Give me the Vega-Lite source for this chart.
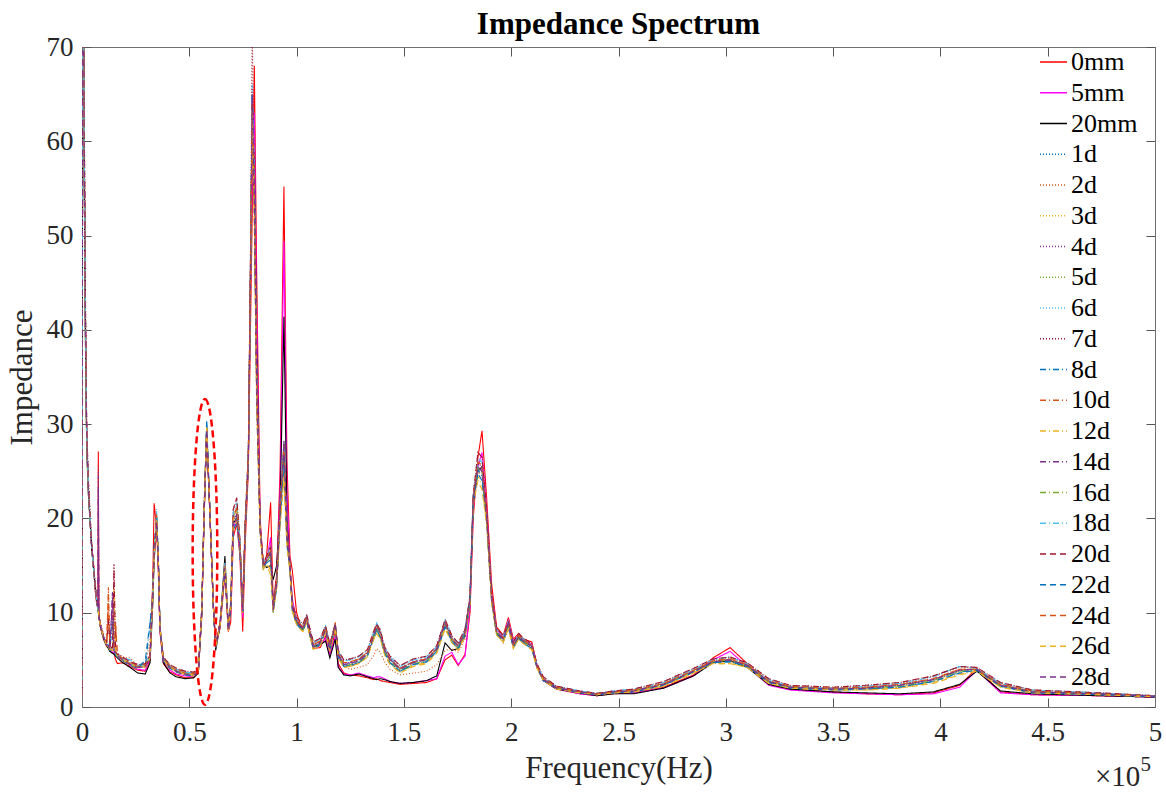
{
"$schema":"https://vega.github.io/schema/vega-lite/v6.json",
"width":1073,"height":660,
"autosize":{"type":"none"},
"padding":{"left":82,"top":47,"right":11,"bottom":85},
"background":"white",
"title":{"text":"Impedance Spectrum","fontSize":31,"font":"Liberation Serif","fontWeight":"bold","color":"#000000","anchor":"middle","frame":"group","offset":13,"dy":21},
"config":{"view":{"stroke":null},"axis":{"grid":false},"font":"Liberation Serif"},
"datasets":{
"names":[{"key":"R","name":"0mm"},{"key":"M","name":"5mm"},{"key":"K","name":"20mm"},{"key":"a","name":"1d"},{"key":"b","name":"2d"},{"key":"c","name":"3d"},{"key":"d","name":"4d"},{"key":"e","name":"5d"},{"key":"g","name":"6d"},{"key":"h","name":"7d"},{"key":"i","name":"8d"},{"key":"j","name":"10d"},{"key":"k","name":"12d"},{"key":"l","name":"14d"},{"key":"m","name":"16d"},{"key":"n","name":"18d"},{"key":"o","name":"20d"},{"key":"p","name":"22d"},{"key":"q","name":"24d"},{"key":"r","name":"26d"},{"key":"s","name":"28d"}],
"ell":[{"f":57300,"v":16.45}],
"x10":[{"f":472000,"v":-8.4,"t":"×10"}],
"x5":[{"f":493300,"v":-6.8,"t":"5"}],
"w":[
{"f":0,"R":1.2,"M":1.2,"K":1.2,"a":1.2,"b":1.2,"c":1.2,"d":1.2,"e":1.2,"g":1.2,"h":1.2,"i":1.2,"j":1.2,"k":1.2,"l":1.2,"m":1.2,"n":1.2,"o":1.2,"p":1.2,"q":1.2,"r":1.2,"s":1.2},
{"f":400,"R":90,"M":90,"K":90,"a":90,"b":90,"c":90,"d":90,"e":90,"g":90,"h":90,"i":90,"j":90,"k":90,"l":90,"m":90,"n":90,"o":90,"p":90,"q":90,"r":90,"s":90},
{"f":1000,"R":62,"M":60,"K":58,"a":60,"b":64,"c":58,"d":62,"e":59,"g":61,"h":66,"i":60,"j":63,"k":57,"l":61,"m":60,"n":62,"o":65,"p":59,"q":63,"r":58,"s":61},
{"f":1600,"R":40,"M":41,"K":39,"a":40,"b":43,"c":39,"d":41,"e":40,"g":42,"h":44,"i":40,"j":42,"k":38,"l":41,"m":40,"n":42,"o":43,"p":39,"q":41,"r":40,"s":41},
{"f":2200,"R":28,"M":28.5,"K":27.5,"a":28,"b":29,"c":27.5,"d":28.5,"e":28,"g":29,"h":30,"i":28,"j":29,"k":27,"l":28,"m":28,"n":29,"o":29.5,"p":27.5,"q":28.5,"r":28,"s":28.5},
{"f":3000,"R":23,"M":23,"K":22.5,"a":23,"b":23.5,"c":22.5,"d":23,"e":23,"g":23.5,"h":24,"i":23,"j":23.5,"k":22.5,"l":23,"m":23,"n":23.5,"o":24,"p":22.5,"q":23,"r":23,"s":23},
{"f":3700,"R":20,"M":20,"K":20,"a":20,"b":20.5,"c":19.7,"d":20,"e":20,"g":20.4,"h":20.8,"i":20,"j":20.3,"k":19.7,"l":20,"m":20,"n":20.4,"o":20.6,"p":19.8,"q":20.2,"r":20,"s":20.1},
{"f":4500,"R":17,"M":17,"K":16.8,"a":17,"b":17.3,"c":16.9,"d":17,"e":17,"g":17.2,"h":17.4,"i":17,"j":17.2,"k":16.9,"l":17,"m":17,"n":17.2,"o":17.3,"p":16.9,"q":17.1,"r":17,"s":17},
{"f":5300,"R":15.6,"M":15,"K":14.8,"a":15,"b":15.2,"c":14.9,"d":15,"e":15,"g":15.1,"h":15.3,"i":15,"j":15.1,"k":14.9,"l":15,"m":15,"n":15.1,"o":15.2,"p":14.9,"q":15,"r":15,"s":15},
{"f":6100,"R":12.5,"M":13,"K":12.8,"a":13,"b":13.2,"c":12.9,"d":13,"e":13,"g":13.1,"h":13.3,"i":13,"j":13.1,"k":12.9,"l":13,"m":13,"n":13.1,"o":13.2,"p":12.9,"q":13,"r":13,"s":13},
{"f":6800,"R":11,"M":11.4,"K":11.3,"a":11.4,"b":11.6,"c":11.3,"d":11.4,"e":11.4,"g":11.5,"h":11.7,"i":11.4,"j":11.5,"k":11.3,"l":11.4,"m":11.4,"n":11.5,"o":11.6,"p":11.3,"q":11.4,"r":11.4,"s":11.4},
{"f":7400,"R":10.5,"M":10.5,"K":10.4,"a":10.5,"b":10.7,"c":10.4,"d":10.5,"e":10.5,"g":10.6,"h":10.8,"i":10.5,"j":10.6,"k":10.4,"l":10.5,"m":10.5,"n":10.6,"o":10.7,"p":10.4,"q":10.5,"r":10.5,"s":10.5},
{"f":7600,"R":27.1,"M":10.2,"K":10.1,"a":10.2,"b":10.4,"c":10.2,"d":25.5,"e":10.2,"g":10.3,"h":10.5,"i":10.2,"j":10.3,"k":10.1,"l":24.5,"m":10.2,"n":10.3,"o":10.4,"p":10.1,"q":10.3,"r":10.2,"s":23},
{"f":7900,"R":9.6,"M":9.6,"K":9.5,"a":9.6,"b":9.8,"c":9.5,"d":9.6,"e":9.6,"g":9.7,"h":9.9,"i":9.6,"j":9.7,"k":9.5,"l":9.6,"m":9.6,"n":9.7,"o":9.8,"p":9.5,"q":9.6,"r":9.6,"s":9.6},
{"f":8600,"R":8.4,"M":8.6,"K":8.5,"a":8.6,"b":8.8,"c":8.5,"d":8.6,"e":8.6,"g":8.7,"h":8.9,"i":8.6,"j":8.7,"k":8.5,"l":8.6,"m":8.6,"n":8.7,"o":8.8,"p":8.5,"q":8.6,"r":8.6,"s":8.6},
{"f":10000,"R":7.2,"M":7.4,"K":7.3,"a":7.4,"b":7.6,"c":7.3,"d":7.4,"e":7.4,"g":7.5,"h":7.7,"i":7.4,"j":7.5,"k":7.3,"l":7.4,"m":7.4,"n":7.5,"o":7.6,"p":7.3,"q":7.4,"r":7.4,"s":7.4},
{"f":11500,"R":6.4,"M":6.6,"K":6.5,"a":6.6,"b":6.8,"c":6.5,"d":6.6,"e":6.6,"g":6.7,"h":6.9,"i":6.6,"j":6.7,"k":6.5,"l":6.6,"m":6.6,"n":6.7,"o":6.8,"p":6.5,"q":6.6,"r":6.6,"s":6.6},
{"f":12300,"R":6.3,"M":6.3,"K":6.2,"a":6.5,"b":12.5,"c":6.6,"d":6.4,"e":6.5,"g":6.7,"h":9,"i":6.5,"j":11,"k":6.4,"l":6.5,"m":6.5,"n":6.6,"o":9.5,"p":6.4,"q":12.7,"r":6.5,"s":6.5},
{"f":13000,"R":5.9,"M":6,"K":5.9,"a":6.1,"b":6.3,"c":6,"d":6.1,"e":6.1,"g":6.2,"h":6.4,"i":6.1,"j":6.2,"k":6,"l":6.1,"m":6.1,"n":6.2,"o":6.3,"p":6,"q":6.1,"r":6.1,"s":6.1},
{"f":14200,"R":5.8,"M":5.8,"K":5.7,"a":9.5,"b":6.1,"c":6,"d":12,"e":6,"g":6.2,"h":6.3,"i":9,"j":6.1,"k":6,"l":11.5,"m":6,"n":6.2,"o":6.3,"p":6,"q":6.1,"r":6,"s":12.2},
{"f":14900,"R":5.7,"M":5.8,"K":5.6,"a":6,"b":10,"c":12,"d":6,"e":6,"g":6.1,"h":15.2,"i":6,"j":6.1,"k":12.5,"l":6,"m":6,"n":6.1,"o":14.5,"p":6,"q":6.1,"r":6,"s":6},
{"f":15700,"R":5,"M":5.5,"K":5.4,"a":5.6,"b":5.8,"c":5.6,"d":5.6,"e":5.6,"g":5.7,"h":5.8,"i":5.6,"j":8.5,"k":5.5,"l":5.6,"m":5.6,"n":5.7,"o":5.8,"p":5.5,"q":9,"r":5.6,"s":5.6},
{"f":16500,"R":4.6,"M":5.3,"K":5.2,"a":5.4,"b":5.6,"c":5.3,"d":5.4,"e":5.4,"g":5.5,"h":5.7,"i":5.4,"j":5.5,"k":5.3,"l":5.4,"m":5.4,"n":5.5,"o":5.6,"p":5.3,"q":5.4,"r":5.4,"s":5.4},
{"f":19000,"R":4.7,"M":4.9,"K":4.7,"a":5,"b":5.3,"c":4.9,"d":5,"e":5.1,"g":5.2,"h":5.3,"i":5,"j":5.2,"k":4.9,"l":5,"m":5.1,"n":5.2,"o":5.3,"p":4.9,"q":5.1,"r":5,"s":5},
{"f":22400,"R":4.3,"M":4.4,"K":4.2,"a":4.5,"b":5.2,"c":4.4,"d":4.5,"e":4.6,"g":4.7,"h":4.8,"i":4.5,"j":4.7,"k":4.4,"l":4.5,"m":4.6,"n":5,"o":4.8,"p":4.4,"q":4.6,"r":4.5,"s":4.5},
{"f":26000,"R":3.9,"M":4,"K":3.6,"a":4.2,"b":4.4,"c":4.1,"d":4.2,"e":4.3,"g":4.4,"h":4.5,"i":4.2,"j":4.4,"k":4.1,"l":4.2,"m":4.3,"n":4.4,"o":4.5,"p":4.1,"q":4.3,"r":4.2,"s":4.2},
{"f":29500,"R":3.8,"M":3.9,"K":3.5,"a":4.3,"b":4.5,"c":4.6,"d":4.3,"e":4.4,"g":4.8,"h":4.5,"i":4.3,"j":4.5,"k":4.2,"l":4.3,"m":4.4,"n":4.5,"o":4.6,"p":5,"q":4.4,"r":4.3,"s":4.3},
{"f":31700,"R":5,"M":5.2,"K":4.7,"a":5.2,"b":7,"c":5.2,"d":5.2,"e":5.3,"g":5.4,"h":5.5,"i":8.8,"j":5.4,"k":5.1,"l":5.2,"m":5.3,"n":5.4,"o":5.5,"p":9,"q":5.3,"r":5.2,"s":5.2},
{"f":33000,"R":13.5,"M":12,"K":11,"a":12,"b":12.5,"c":11.5,"d":12,"e":12.2,"g":12.6,"h":13,"i":12,"j":12.4,"k":11.6,"l":12,"m":12.2,"n":12.6,"o":12.8,"p":11.8,"q":12.3,"r":12,"s":12.1},
{"f":33600,"R":21.6,"M":16,"K":15.5,"a":16,"b":16.5,"c":15.6,"d":16,"e":16.2,"g":16.6,"h":17,"i":16,"j":16.4,"k":15.7,"l":16,"m":16.2,"n":16.6,"o":16.8,"p":17,"q":16.3,"r":16,"s":16.1},
{"f":34800,"R":19,"M":19.5,"K":19.5,"a":19.9,"b":19.2,"c":20.3,"d":19,"e":20.5,"g":21,"h":19.5,"i":20,"j":20.2,"k":19.3,"l":19.6,"m":20.1,"n":20.8,"o":19.4,"p":20,"q":20.4,"r":19.8,"s":19.6},
{"f":35600,"R":14,"M":15,"K":15,"a":15.5,"b":15.2,"c":15.7,"d":15.3,"e":15.6,"g":16,"h":15.4,"i":15.5,"j":15.6,"k":15.2,"l":15.4,"m":15.6,"n":15.9,"o":15.3,"p":15.5,"q":15.7,"r":15.5,"s":15.4},
{"f":36300,"R":8,"M":8.2,"K":8.4,"a":8.5,"b":8.6,"c":8.4,"d":8.5,"e":8.6,"g":8.8,"h":8.4,"i":8.5,"j":8.6,"k":8.3,"l":8.5,"m":8.6,"n":8.8,"o":8.4,"p":8.5,"q":8.6,"r":8.5,"s":8.5},
{"f":37900,"R":4.6,"M":4.8,"K":4.7,"a":5,"b":5.2,"c":4.9,"d":5,"e":5.1,"g":5.2,"h":5.3,"i":5,"j":5.2,"k":4.9,"l":5,"m":5.1,"n":5.2,"o":5.3,"p":4.9,"q":5.1,"r":5,"s":5},
{"f":41000,"R":3.7,"M":3.9,"K":3.6,"a":4.2,"b":4.4,"c":4.1,"d":4.2,"e":4.3,"g":4.4,"h":4.5,"i":4.2,"j":4.4,"k":4,"l":4.2,"m":4.3,"n":4.4,"o":4.5,"p":4.1,"q":4.3,"r":4.2,"s":4.2},
{"f":44000,"R":3.4,"M":3.5,"K":3.2,"a":3.8,"b":4,"c":3.7,"d":3.8,"e":3.9,"g":4,"h":4.1,"i":3.8,"j":4,"k":3.7,"l":3.8,"m":3.9,"n":4,"o":4.1,"p":3.7,"q":3.9,"r":3.8,"s":3.8},
{"f":48000,"R":3.1,"M":3.3,"K":3,"a":3.5,"b":3.7,"c":3.4,"d":3.5,"e":3.6,"g":3.7,"h":3.8,"i":3.5,"j":3.7,"k":3.4,"l":3.5,"m":3.6,"n":3.7,"o":3.8,"p":3.4,"q":3.6,"r":3.5,"s":3.5},
{"f":52000,"R":3.1,"M":3.2,"K":3.1,"a":3.4,"b":3.6,"c":3.3,"d":3.4,"e":3.5,"g":3.6,"h":3.7,"i":3.4,"j":3.6,"k":3.3,"l":3.4,"m":3.5,"n":3.6,"o":3.7,"p":3.3,"q":3.5,"r":3.4,"s":3.4},
{"f":54200,"R":3.6,"M":3.6,"K":3.6,"a":3.7,"b":3.9,"c":3.6,"d":3.7,"e":3.8,"g":3.9,"h":4,"i":3.7,"j":3.9,"k":3.6,"l":3.7,"m":3.8,"n":3.9,"o":4,"p":3.6,"q":3.8,"r":3.7,"s":3.7},
{"f":55800,"R":9.5,"M":9.8,"K":10,"a":10,"b":10.3,"c":9.8,"d":10,"e":10.2,"g":10.4,"h":10.5,"i":10,"j":10.3,"k":9.8,"l":10,"m":10.2,"n":10.4,"o":10.5,"p":9.8,"q":10.2,"r":10,"s":10},
{"f":56900,"R":20,"M":20.3,"K":20.5,"a":20.5,"b":20.8,"c":20.2,"d":20.5,"e":20.7,"g":21,"h":21.2,"i":20.5,"j":20.9,"k":20.2,"l":20.5,"m":20.7,"n":21,"o":21.2,"p":20.3,"q":20.8,"r":20.5,"s":20.5},
{"f":58100,"R":29,"M":29.3,"K":29,"a":29.7,"b":29.5,"c":29.9,"d":29.2,"e":29.6,"g":30,"h":29.4,"i":29.8,"j":29.5,"k":29.6,"l":29.3,"m":29.7,"n":30.1,"o":29.5,"p":30.5,"q":29.6,"r":29.8,"s":29.4},
{"f":59600,"R":20.3,"M":20.4,"K":20.6,"a":20.6,"b":20.8,"c":20.4,"d":20.6,"e":20.7,"g":21,"h":20.8,"i":20.6,"j":20.8,"k":20.4,"l":20.6,"m":20.7,"n":21,"o":20.9,"p":20.5,"q":20.7,"r":20.6,"s":20.6},
{"f":61200,"R":10.5,"M":10.6,"K":10.8,"a":10.7,"b":10.9,"c":10.6,"d":10.7,"e":10.8,"g":11,"h":11,"i":10.7,"j":10.9,"k":10.6,"l":10.7,"m":10.8,"n":11,"o":11,"p":10.6,"q":10.8,"r":10.7,"s":10.7},
{"f":62300,"R":6.6,"M":6.4,"K":6,"a":6.4,"b":6.6,"c":6.3,"d":6.4,"e":6.5,"g":6.6,"h":6.7,"i":6.4,"j":6.6,"k":6.3,"l":6.4,"m":6.5,"n":6.6,"o":6.7,"p":6.3,"q":6.5,"r":6.4,"s":6.4},
{"f":64300,"R":8.3,"M":8.5,"K":8.6,"a":8.6,"b":8.8,"c":8.5,"d":8.6,"e":8.7,"g":8.8,"h":9,"i":8.6,"j":8.8,"k":8.5,"l":8.6,"m":8.7,"n":8.8,"o":9,"p":8.5,"q":8.7,"r":8.6,"s":8.6},
{"f":66600,"R":14,"M":14.5,"K":16,"a":14.9,"b":15.1,"c":14.6,"d":14.9,"e":15,"g":15.3,"h":14.4,"i":14.9,"j":15.1,"k":14.6,"l":14.8,"m":15,"n":15.3,"o":14.4,"p":14.7,"q":15,"r":14.9,"s":14.8},
{"f":68200,"R":8,"M":8.2,"K":8.5,"a":8.2,"b":8.4,"c":8.1,"d":8.2,"e":8.3,"g":8.4,"h":8.5,"i":8.2,"j":8.4,"k":8.1,"l":8.2,"m":8.3,"n":8.4,"o":8.5,"p":8.1,"q":8.3,"r":8.2,"s":8.2},
{"f":69300,"R":9,"M":10,"K":10.5,"a":10.5,"b":10.8,"c":10.3,"d":10.5,"e":10.6,"g":10.8,"h":11,"i":10.5,"j":10.7,"k":10.3,"l":10.5,"m":10.6,"n":10.8,"o":11,"p":10.3,"q":10.6,"r":10.5,"s":10.5},
{"f":70500,"R":18,"M":19,"K":19.5,"a":19.9,"b":20.4,"c":19.2,"d":19.9,"e":20.2,"g":20.8,"h":21,"i":19.5,"j":20.3,"k":19,"l":19.8,"m":20.1,"n":20.7,"o":21,"p":18.8,"q":20.2,"r":19.9,"s":19.7},
{"f":72100,"R":19.5,"M":20,"K":20,"a":20.6,"b":21.2,"c":20,"d":20.6,"e":21,"g":21.8,"h":22,"i":20.3,"j":21.1,"k":19.8,"l":20.5,"m":20.9,"n":21.6,"o":22.2,"p":19.6,"q":21,"r":20.6,"s":20.4},
{"f":73600,"R":16,"M":16.5,"K":17.5,"a":17,"b":17.4,"c":16.6,"d":17,"e":17.2,"g":17.6,"h":17.8,"i":16.8,"j":17.3,"k":16.5,"l":16.9,"m":17.1,"n":17.5,"o":17.8,"p":16.4,"q":17.2,"r":17,"s":16.9},
{"f":74900,"R":8,"M":9.5,"K":10,"a":10.2,"b":10.5,"c":10,"d":10.2,"e":10.3,"g":10.6,"h":10.8,"i":10.1,"j":10.4,"k":10,"l":10.2,"m":10.3,"n":10.6,"o":10.8,"p":10,"q":10.4,"r":10.2,"s":10.2},
{"f":76000,"R":17,"M":18.5,"K":18.8,"a":18.8,"b":19.2,"c":18.5,"d":18.8,"e":19,"g":19.4,"h":19.6,"i":18.7,"j":19.1,"k":18.5,"l":18.8,"m":19,"n":19.4,"o":19.6,"p":18.5,"q":19.1,"r":18.8,"s":18.8},
{"f":77500,"R":25,"M":25.5,"K":26,"a":26,"b":26.5,"c":25.6,"d":26,"e":26.3,"g":26.8,"h":27,"i":25.9,"j":26.4,"k":25.5,"l":26,"m":26.2,"n":26.8,"o":27,"p":25.5,"q":26.4,"r":26,"s":26},
{"f":78500,"R":40,"M":44,"K":46,"a":45,"b":46,"c":44,"d":45,"e":46,"g":47,"h":48,"i":44,"j":46,"k":43,"l":45,"m":46,"n":47,"o":48,"p":44,"q":46,"r":45,"s":45},
{"f":79300,"R":52,"M":56,"K":60,"a":64,"b":65,"c":63,"d":66,"e":64,"g":65,"h":72,"i":63,"j":64,"k":62,"l":65,"m":64,"n":66,"o":63,"p":65,"q":64,"r":63,"s":65},
{"f":80300,"R":68,"M":63,"K":58,"a":55,"b":56,"c":53,"d":57,"e":54,"g":56,"h":58,"i":52,"j":55,"k":51,"l":56,"m":54,"n":57,"o":53,"p":55,"q":56,"r":52,"s":54},
{"f":81400,"R":46,"M":42,"K":38,"a":34.7,"b":35.5,"c":33,"d":36,"e":34,"g":35.5,"h":37,"i":32,"j":35,"k":32.5,"l":35.5,"m":34,"n":36,"o":33,"p":34.5,"q":35.5,"r":32,"s":34},
{"f":83000,"R":20,"M":19.5,"K":19,"a":18.8,"b":19,"c":18.4,"d":19,"e":18.7,"g":19.2,"h":19.4,"i":18.5,"j":19,"k":18.3,"l":18.9,"m":18.7,"n":19.2,"o":19,"p":18.6,"q":19,"r":18.5,"s":18.8},
{"f":84500,"R":15,"M":15,"K":15.2,"a":14.9,"b":15.1,"c":14.7,"d":15,"e":14.8,"g":15.2,"h":15.3,"i":14.7,"j":15.1,"k":14.6,"l":15,"m":14.8,"n":15.2,"o":15.2,"p":14.7,"q":15.1,"r":14.7,"s":14.9},
{"f":86000,"R":16,"M":15.5,"K":14.8,"a":15.5,"b":15.8,"c":15.2,"d":15.6,"e":15.4,"g":15.9,"h":16,"i":15.3,"j":15.7,"k":15.1,"l":15.6,"m":15.4,"n":15.9,"o":16,"p":15.3,"q":15.7,"r":15.2,"s":15.5},
{"f":87900,"R":21.7,"M":18,"K":15,"a":16.4,"b":16.9,"c":15.8,"d":16.6,"e":16,"g":17,"h":17.2,"i":15.5,"j":16.7,"k":14,"l":16.5,"m":16,"n":17,"o":17,"p":15.6,"q":16.8,"r":14.5,"s":16.3},
{"f":89100,"R":11,"M":10.5,"K":13.5,"a":10.3,"b":10.6,"c":10.1,"d":10.4,"e":10.2,"g":10.7,"h":10.8,"i":10,"j":10.5,"k":10,"l":10.4,"m":10.2,"n":10.7,"o":10.8,"p":10.1,"q":10.5,"r":10,"s":10.3},
{"f":90700,"R":14,"M":13.5,"K":15,"a":13,"b":13.4,"c":12.8,"d":13.1,"e":12.9,"g":13.5,"h":13.6,"i":12.7,"j":13.3,"k":12.6,"l":13.1,"m":12.9,"n":13.5,"o":13.6,"p":12.8,"q":13.3,"r":12.7,"s":13},
{"f":92300,"R":25,"M":23,"K":21,"a":20.6,"b":21.2,"c":20,"d":20.8,"e":20.3,"g":21.4,"h":21.5,"i":19.5,"j":21,"k":19,"l":20.7,"m":20.3,"n":21.4,"o":21.2,"p":19.8,"q":21,"r":19.3,"s":20.5},
{"f":94100,"R":55.2,"M":49.4,"K":41.4,"a":27.5,"b":28,"c":26,"d":28.3,"e":27,"g":28,"h":27.5,"i":25.5,"j":27.8,"k":24,"l":28.3,"m":26.8,"n":28,"o":27,"p":26.5,"q":27.8,"r":24.5,"s":28},
{"f":95500,"R":26,"M":23,"K":20,"a":18,"b":18.5,"c":17.5,"d":18.3,"e":17.8,"g":18.6,"h":18.5,"i":17.2,"j":18.4,"k":17,"l":18.3,"m":17.8,"n":18.6,"o":18.4,"p":17.5,"q":18.4,"r":17,"s":18},
{"f":96900,"R":16,"M":15,"K":14.5,"a":14.9,"b":15.2,"c":14.6,"d":15,"e":14.8,"g":15.3,"h":15.3,"i":14.5,"j":15.1,"k":14.4,"l":15,"m":14.8,"n":15.3,"o":15.2,"p":14.6,"q":15.1,"r":14.4,"s":14.9},
{"f":98000,"R":14.5,"M":11.5,"K":10.8,"a":10.5,"b":10.8,"c":10.3,"d":10.6,"e":10.4,"g":10.9,"h":11,"i":10.2,"j":10.7,"k":10.1,"l":10.6,"m":10.4,"n":10.9,"o":11,"p":10.3,"q":10.7,"r":10.1,"s":10.5},
{"f":100000,"R":10,"M":9.2,"K":9,"a":9,"b":9.3,"c":8.8,"d":9.1,"e":8.9,"g":9.4,"h":9.5,"i":8.8,"j":9.2,"k":8.7,"l":9.1,"m":8.9,"n":9.4,"o":9.5,"p":8.8,"q":9.2,"r":8.7,"s":9},
{"f":101600,"R":8.8,"M":8.6,"K":8.5,"a":8.6,"b":8.9,"c":8.4,"d":8.7,"e":8.5,"g":9,"h":9.1,"i":8.4,"j":8.8,"k":8.3,"l":8.7,"m":8.5,"n":9,"o":9.1,"p":8.4,"q":8.8,"r":8.3,"s":8.6},
{"f":103000,"R":8.4,"M":8.3,"K":8.2,"a":8.3,"b":8.6,"c":8.1,"d":8.4,"e":8.2,"g":8.7,"h":8.8,"i":8.1,"j":8.5,"k":8,"l":8.4,"m":8.2,"n":8.7,"o":8.8,"p":8.1,"q":8.5,"r":8,"s":8.3},
{"f":104700,"R":9.2,"M":9.4,"K":9.3,"a":9.3,"b":9.6,"c":9.1,"d":9.4,"e":9.2,"g":9.7,"h":9.8,"i":9.1,"j":9.5,"k":9,"l":9.4,"m":9.2,"n":9.7,"o":9.8,"p":9.1,"q":9.5,"r":9,"s":9.3},
{"f":106000,"R":7.8,"M":8,"K":8,"a":8,"b":8.3,"c":7.8,"d":8.1,"e":7.9,"g":8.4,"h":8.5,"i":7.8,"j":8.2,"k":7.7,"l":8.1,"m":7.9,"n":8.4,"o":8.5,"p":7.8,"q":8.2,"r":7.7,"s":8},
{"f":107800,"R":6.2,"M":6.3,"K":6.4,"a":6.4,"b":6.7,"c":6.2,"d":6.5,"e":6.3,"g":6.8,"h":6.9,"i":6.2,"j":6.6,"k":6.1,"l":6.5,"m":6.3,"n":6.8,"o":6.9,"p":6.2,"q":6.6,"r":6.1,"s":6.4},
{"f":111000,"R":6.3,"M":6.5,"K":6.6,"a":6.8,"b":7.1,"c":6.6,"d":6.9,"e":6.7,"g":7.2,"h":7.3,"i":6.6,"j":7,"k":6.5,"l":6.9,"m":6.7,"n":7.2,"o":7.3,"p":6.6,"q":7,"r":6.5,"s":6.8},
{"f":113500,"R":7.5,"M":7.3,"K":7,"a":8.2,"b":8.5,"c":8,"d":8.3,"e":8.1,"g":8.6,"h":8.6,"i":8,"j":8.4,"k":7.9,"l":8.3,"m":8.1,"n":8.6,"o":8.6,"p":8,"q":8.4,"r":7.9,"s":8.2},
{"f":115500,"R":5.6,"M":5.5,"K":5.2,"a":6.2,"b":6.5,"c":6,"d":6.3,"e":6.1,"g":6.6,"h":6.7,"i":6,"j":6.4,"k":5.9,"l":6.3,"m":6.1,"n":6.6,"o":6.7,"p":6,"q":6.4,"r":5.9,"s":6.2},
{"f":118000,"R":8,"M":7.5,"K":7.2,"a":8.7,"b":9,"c":8.5,"d":8.8,"e":8.6,"g":8.9,"h":8.8,"i":8.5,"j":8.9,"k":8.4,"l":8.8,"m":8.6,"n":8.9,"o":8.8,"p":8.5,"q":8.9,"r":8.4,"s":8.7},
{"f":119400,"R":4.6,"M":4.3,"K":4.2,"a":5.5,"b":5.8,"c":5.3,"d":5.6,"e":5.4,"g":5.9,"h":6,"i":5.3,"j":5.7,"k":5.2,"l":5.6,"m":5.4,"n":5.9,"o":6,"p":5.3,"q":5.7,"r":5.2,"s":5.5},
{"f":122000,"R":3.6,"M":3.5,"K":3.4,"a":4.5,"b":4.3,"c":4.3,"d":4.6,"e":4.4,"g":4.9,"h":5,"i":4.3,"j":4.7,"k":4.2,"l":4.6,"m":4.4,"n":4.9,"o":5,"p":4.3,"q":4.7,"r":4.2,"s":4.5},
{"f":125000,"R":3.4,"M":3.4,"K":3.3,"a":4.6,"b":4,"c":4.4,"d":4.7,"e":4.5,"g":5,"h":5.1,"i":4.4,"j":4.8,"k":4.3,"l":4.7,"m":4.5,"n":5,"o":5.1,"p":4.4,"q":4.8,"r":4.3,"s":4.6},
{"f":129000,"R":3.3,"M":3.6,"K":3.5,"a":4.9,"b":4.2,"c":4.7,"d":5,"e":4.8,"g":5.3,"h":5.4,"i":4.7,"j":5.1,"k":4.6,"l":5,"m":4.8,"n":5.3,"o":5.4,"p":4.7,"q":5.1,"r":4.6,"s":4.9},
{"f":133000,"R":3.1,"M":3.3,"K":3.2,"a":5.6,"b":4.5,"c":5.4,"d":5.7,"e":5.5,"g":6,"h":6.1,"i":5.4,"j":5.8,"k":5.3,"l":5.7,"m":5.5,"n":6,"o":6.1,"p":5.4,"q":5.8,"r":5.3,"s":5.6},
{"f":136000,"R":2.9,"M":3.1,"K":3,"a":7.6,"b":5.5,"c":7.3,"d":7.7,"e":7.5,"g":8,"h":8.1,"i":7.3,"j":7.8,"k":7.2,"l":7.7,"m":7.5,"n":8,"o":8.1,"p":7.3,"q":7.8,"r":7.2,"s":7.6},
{"f":137300,"R":3,"M":3.2,"K":2.9,"a":8.6,"b":6.2,"c":8.3,"d":8.7,"e":8.4,"g":8.9,"h":8.8,"i":8.2,"j":8.7,"k":8,"l":8.7,"m":8.4,"n":8.9,"o":8.8,"p":8.2,"q":8.7,"r":7.8,"s":8.6},
{"f":139000,"R":2.8,"M":3.2,"K":3,"a":7.8,"b":5.8,"c":7.5,"d":7.9,"e":7.6,"g":8.1,"h":8.2,"i":7.4,"j":7.9,"k":7.3,"l":7.9,"m":7.6,"n":8.1,"o":8.2,"p":7.4,"q":7.9,"r":7.2,"s":7.8},
{"f":141000,"R":2.7,"M":3,"K":2.9,"a":6,"b":4.8,"c":5.8,"d":6.1,"e":5.9,"g":6.3,"h":6.4,"i":5.7,"j":6.1,"k":5.6,"l":6.1,"m":5.9,"n":6.3,"o":6.4,"p":5.7,"q":6.1,"r":5.5,"s":6},
{"f":143500,"R":2.6,"M":2.7,"K":2.7,"a":5,"b":4,"c":4.8,"d":5.1,"e":4.9,"g":5.3,"h":5.4,"i":4.7,"j":5.1,"k":4.6,"l":5.1,"m":4.9,"n":5.3,"o":5.4,"p":4.7,"q":5.1,"r":4.5,"s":5},
{"f":148200,"R":2.4,"M":2.5,"K":2.5,"a":4,"b":3.4,"c":3.8,"d":4.1,"e":3.9,"g":4.3,"h":4.4,"i":3.8,"j":4.1,"k":3.7,"l":4.1,"m":3.9,"n":4.3,"o":4.4,"p":3.8,"q":4.1,"r":3.6,"s":4},
{"f":154400,"R":2.5,"M":2.6,"K":2.6,"a":4.7,"b":3.6,"c":4.5,"d":4.8,"e":4.6,"g":5,"h":5.1,"i":4.5,"j":4.8,"k":4.4,"l":4.8,"m":4.6,"n":5,"o":5.1,"p":4.5,"q":4.8,"r":4.3,"s":4.7},
{"f":160600,"R":2.6,"M":2.8,"K":2.8,"a":5,"b":3.8,"c":4.8,"d":5.1,"e":4.9,"g":5.3,"h":5.4,"i":4.8,"j":5.1,"k":4.7,"l":5.1,"m":4.9,"n":5.3,"o":5.4,"p":4.8,"q":5.1,"r":4.6,"s":5},
{"f":165300,"R":3,"M":3,"K":3.3,"a":6.1,"b":4.5,"c":5.9,"d":6.2,"e":6,"g":6.4,"h":6.5,"i":5.9,"j":6.2,"k":5.8,"l":6.2,"m":6,"n":6.4,"o":6.5,"p":5.9,"q":6.2,"r":5.7,"s":6.1},
{"f":169200,"R":5,"M":5.4,"K":6.8,"a":8.9,"b":6,"c":8.6,"d":9,"e":8.7,"g":9.2,"h":9.3,"i":8.5,"j":9,"k":8.4,"l":9,"m":8.7,"n":9.2,"o":9.3,"p":8.5,"q":9,"r":8.3,"s":8.9},
{"f":172300,"R":5.5,"M":5.8,"K":6,"a":7.2,"b":6.2,"c":7,"d":7.3,"e":7.1,"g":7.5,"h":7.6,"i":7,"j":7.3,"k":6.9,"l":7.3,"m":7.1,"n":7.5,"o":7.6,"p":7,"q":7.3,"r":6.8,"s":7.2},
{"f":175300,"R":4.4,"M":4.5,"K":6.2,"a":6.4,"b":5.8,"c":6.2,"d":6.5,"e":6.3,"g":6.7,"h":6.8,"i":6.2,"j":6.5,"k":6.1,"l":6.5,"m":6.3,"n":6.7,"o":6.8,"p":6.2,"q":6.5,"r":6,"s":6.4},
{"f":178500,"R":5.6,"M":5.4,"K":7.5,"a":7.9,"b":7.2,"c":7.7,"d":8,"e":7.8,"g":8.2,"h":8.3,"i":7.7,"j":8,"k":7.6,"l":8,"m":7.8,"n":8.2,"o":8.3,"p":7.7,"q":8,"r":7.5,"s":7.9},
{"f":180800,"R":10,"M":10.5,"K":11,"a":11.4,"b":11,"c":11.2,"d":11.5,"e":11.3,"g":11.7,"h":11.8,"i":11.2,"j":11.5,"k":11.1,"l":11.5,"m":11.3,"n":11.7,"o":11.8,"p":11.2,"q":11.5,"r":11,"s":11.4},
{"f":182300,"R":20,"M":21,"K":21.5,"a":22,"b":21.5,"c":21.8,"d":22.1,"e":21.9,"g":22.4,"h":22.5,"i":21.8,"j":22.2,"k":21.6,"l":22.1,"m":21.9,"n":22.4,"o":22.5,"p":21.8,"q":22.2,"r":21.5,"s":22},
{"f":184500,"R":26.5,"M":25.5,"K":25,"a":25.5,"b":25,"c":25.2,"d":25.8,"e":25.4,"g":26.2,"h":27,"i":25.2,"j":26,"k":24.5,"l":25.8,"m":25.4,"n":26.3,"o":27,"p":24.8,"q":26,"r":24,"s":25.5},
{"f":186400,"R":29.3,"M":27,"K":25.5,"a":25,"b":24.5,"c":24.8,"d":25.5,"e":25,"g":26,"h":26.5,"i":24.5,"j":25.6,"k":23.5,"l":25.4,"m":25,"n":26,"o":26.5,"p":24,"q":25.6,"r":23,"s":25},
{"f":188600,"R":22,"M":21,"K":20,"a":20,"b":19.6,"c":19.8,"d":20.2,"e":19.9,"g":20.5,"h":20.8,"i":19.6,"j":20.3,"k":19.3,"l":20.2,"m":19.9,"n":20.5,"o":20.8,"p":19.5,"q":20.3,"r":19.2,"s":20},
{"f":190900,"R":13,"M":12,"K":11.5,"a":11.4,"b":11.2,"c":11.3,"d":11.5,"e":11.4,"g":11.7,"h":11.8,"i":11.2,"j":11.5,"k":11,"l":11.5,"m":11.4,"n":11.7,"o":11.8,"p":11.2,"q":11.5,"r":11,"s":11.4},
{"f":193200,"R":8.5,"M":8.2,"K":7.8,"a":7.9,"b":7.7,"c":7.8,"d":8,"e":7.9,"g":8.2,"h":8.3,"i":7.7,"j":8,"k":7.6,"l":8,"m":7.9,"n":8.2,"o":8.3,"p":7.7,"q":8,"r":7.6,"s":7.9},
{"f":196300,"R":7.6,"M":7.4,"K":7.2,"a":7.2,"b":6.8,"c":7.1,"d":7.3,"e":7.2,"g":7.5,"h":7.6,"i":7,"j":7.3,"k":6.9,"l":7.3,"m":7.2,"n":7.5,"o":7.6,"p":7,"q":7.3,"r":6.9,"s":7.2},
{"f":198700,"R":9.5,"M":9.2,"K":8.8,"a":8.9,"b":8.2,"c":8.7,"d":9,"e":8.8,"g":9.1,"h":9,"i":8.6,"j":8.9,"k":8.4,"l":9,"m":8.8,"n":9.1,"o":9,"p":8.6,"q":8.9,"r":8.3,"s":8.9},
{"f":201000,"R":7.2,"M":7,"K":6.6,"a":6.5,"b":6.3,"c":6.4,"d":6.6,"e":6.5,"g":6.8,"h":6.9,"i":6.3,"j":6.6,"k":6.2,"l":6.6,"m":6.5,"n":6.8,"o":6.9,"p":6.3,"q":6.6,"r":6.2,"s":6.5},
{"f":203500,"R":7.8,"M":7.6,"K":7.4,"a":7.5,"b":7.3,"c":7.4,"d":7.6,"e":7.5,"g":7.7,"h":7.8,"i":7.3,"j":7.6,"k":7.2,"l":7.6,"m":7.5,"n":7.7,"o":7.8,"p":7.3,"q":7.6,"r":7.2,"s":7.5},
{"f":205700,"R":7.2,"M":7,"K":6.9,"a":7,"b":6.8,"c":6.9,"d":7.1,"e":7,"g":7.2,"h":7.3,"i":6.8,"j":7.1,"k":6.7,"l":7.1,"m":7,"n":7.2,"o":7.3,"p":6.8,"q":7.1,"r":6.7,"s":7},
{"f":209600,"R":6.9,"M":6.7,"K":6.5,"a":6.4,"b":6.2,"c":6.3,"d":6.5,"e":6.4,"g":6.6,"h":6.7,"i":6.2,"j":6.5,"k":6.1,"l":6.5,"m":6.4,"n":6.6,"o":6.7,"p":6.2,"q":6.5,"r":6.1,"s":6.4},
{"f":212000,"R":4.4,"M":4.3,"K":4.2,"a":4.3,"b":4.2,"c":4.3,"d":4.4,"e":4.3,"g":4.5,"h":4.6,"i":4.2,"j":4.4,"k":4.1,"l":4.4,"m":4.3,"n":4.5,"o":4.6,"p":4.2,"q":4.4,"r":4.1,"s":4.3},
{"f":215000,"R":2.8,"M":2.8,"K":2.8,"a":2.9,"b":2.8,"c":2.9,"d":3,"e":2.9,"g":3.1,"h":3.2,"i":2.8,"j":3,"k":2.8,"l":3,"m":2.9,"n":3.1,"o":3.2,"p":2.8,"q":3,"r":2.8,"s":2.9},
{"f":221200,"R":1.9,"M":1.9,"K":1.9,"a":2,"b":2,"c":2,"d":2.1,"e":2,"g":2.2,"h":2.2,"i":2,"j":2.1,"k":1.9,"l":2.1,"m":2,"n":2.2,"o":2.2,"p":2,"q":2.1,"r":1.9,"s":2},
{"f":232000,"R":1.4,"M":1.4,"K":1.5,"a":1.6,"b":1.6,"c":1.6,"d":1.6,"e":1.6,"g":1.7,"h":1.7,"i":1.5,"j":1.6,"k":1.5,"l":1.6,"m":1.6,"n":1.7,"o":1.7,"p":1.5,"q":1.6,"r":1.5,"s":1.6},
{"f":240000,"R":1.2,"M":1.2,"K":1.2,"a":1.35,"b":1.35,"c":1.3,"d":1.4,"e":1.35,"g":1.45,"h":1.45,"i":1.3,"j":1.4,"k":1.3,"l":1.4,"m":1.35,"n":1.45,"o":1.45,"p":1.3,"q":1.4,"r":1.3,"s":1.35},
{"f":247600,"R":1.4,"M":1.5,"K":1.4,"a":1.6,"b":1.6,"c":1.5,"d":1.6,"e":1.6,"g":1.7,"h":1.7,"i":1.5,"j":1.6,"k":1.5,"l":1.6,"m":1.6,"n":1.7,"o":1.7,"p":1.5,"q":1.6,"r":1.5,"s":1.6},
{"f":257000,"R":1.5,"M":1.5,"K":1.4,"a":1.7,"b":1.8,"c":1.7,"d":1.7,"e":1.7,"g":1.9,"h":1.9,"i":1.6,"j":1.8,"k":1.6,"l":1.7,"m":1.7,"n":1.9,"o":1.9,"p":1.6,"q":1.8,"r":1.6,"s":1.7},
{"f":271000,"R":2.1,"M":2,"K":2,"a":2.4,"b":2.6,"c":2.3,"d":2.4,"e":2.4,"g":2.6,"h":2.7,"i":2.3,"j":2.5,"k":2.2,"l":2.4,"m":2.4,"n":2.6,"o":2.7,"p":2.3,"q":2.5,"r":2.2,"s":2.4},
{"f":285000,"R":3.4,"M":3.3,"K":3.3,"a":3.8,"b":4,"c":3.7,"d":3.8,"e":3.8,"g":4,"h":4.1,"i":3.7,"j":3.9,"k":3.6,"l":3.8,"m":3.8,"n":4,"o":4.1,"p":3.7,"q":3.9,"r":3.6,"s":3.8},
{"f":294000,"R":5.2,"M":5,"K":4.7,"a":4.8,"b":4.9,"c":4.7,"d":4.8,"e":4.8,"g":5,"h":5.1,"i":4.7,"j":4.9,"k":4.6,"l":4.8,"m":4.8,"n":5,"o":5.1,"p":4.7,"q":4.9,"r":4.6,"s":4.8},
{"f":302000,"R":6.3,"M":5.9,"K":4.9,"a":5,"b":5.2,"c":4.8,"d":5,"e":5,"g":5.3,"h":5.3,"i":4.8,"j":5.1,"k":4.6,"l":5,"m":5,"n":5.3,"o":5.3,"p":4.8,"q":5.1,"r":4.6,"s":5},
{"f":310000,"R":4.6,"M":4.3,"K":4.2,"a":4.4,"b":4.6,"c":4.3,"d":4.4,"e":4.4,"g":4.6,"h":4.7,"i":4.3,"j":4.5,"k":4.2,"l":4.4,"m":4.4,"n":4.6,"o":4.7,"p":4.3,"q":4.5,"r":4.2,"s":4.4},
{"f":320000,"R":2.4,"M":2.3,"K":2.4,"a":2.7,"b":2.9,"c":2.6,"d":2.7,"e":2.7,"g":2.9,"h":3,"i":2.6,"j":2.8,"k":2.5,"l":2.7,"m":2.7,"n":2.9,"o":3,"p":2.6,"q":2.8,"r":2.5,"s":2.7},
{"f":330000,"R":1.9,"M":1.8,"K":1.9,"a":2.1,"b":2.2,"c":2,"d":2.1,"e":2.1,"g":2.2,"h":2.3,"i":2,"j":2.2,"k":2,"l":2.1,"m":2.1,"n":2.2,"o":2.3,"p":2,"q":2.2,"r":2,"s":2.1},
{"f":350000,"R":1.6,"M":1.5,"K":1.6,"a":1.9,"b":2,"c":1.8,"d":1.9,"e":1.9,"g":2,"h":2.1,"i":1.8,"j":2,"k":1.8,"l":1.9,"m":1.9,"n":2,"o":2.1,"p":1.8,"q":2,"r":1.8,"s":1.9},
{"f":365000,"R":1.4,"M":1.4,"K":1.5,"a":2,"b":2.2,"c":1.9,"d":2,"e":2,"g":2.2,"h":2.3,"i":1.9,"j":2.1,"k":1.8,"l":2,"m":2,"n":2.2,"o":2.3,"p":1.9,"q":2.1,"r":1.8,"s":2},
{"f":381000,"R":1.3,"M":1.3,"K":1.4,"a":2.3,"b":2.5,"c":2.1,"d":2.3,"e":2.2,"g":2.5,"h":2.6,"i":2.1,"j":2.4,"k":2,"l":2.3,"m":2.2,"n":2.5,"o":2.6,"p":2.1,"q":2.4,"r":2,"s":2.3},
{"f":396700,"R":1.5,"M":1.4,"K":1.6,"a":2.9,"b":3.2,"c":2.7,"d":2.9,"e":2.8,"g":3.2,"h":3.3,"i":2.7,"j":3,"k":2.6,"l":2.9,"m":2.8,"n":3.2,"o":3.3,"p":2.7,"q":3,"r":2.5,"s":2.9},
{"f":409000,"R":2.3,"M":2.1,"K":2.4,"a":3.9,"b":4.2,"c":3.7,"d":3.9,"e":3.8,"g":4.3,"h":4.3,"i":3.7,"j":4,"k":3.5,"l":3.9,"m":3.8,"n":4.3,"o":4.3,"p":3.6,"q":4,"r":3.4,"s":3.9},
{"f":417000,"R":4.1,"M":3.9,"K":3.8,"a":4,"b":4.1,"c":3.9,"d":4,"e":4,"g":4.1,"h":4.2,"i":3.9,"j":4,"k":3.8,"l":4,"m":4,"n":4.1,"o":4.2,"p":3.9,"q":4,"r":3.8,"s":4},
{"f":428000,"R":1.6,"M":1.5,"K":1.7,"a":2.3,"b":2.5,"c":2.2,"d":2.3,"e":2.3,"g":2.5,"h":2.6,"i":2.2,"j":2.4,"k":2.1,"l":2.3,"m":2.3,"n":2.5,"o":2.6,"p":2.2,"q":2.4,"r":2.1,"s":2.3},
{"f":443000,"R":1.3,"M":1.3,"K":1.4,"a":1.6,"b":1.8,"c":1.5,"d":1.6,"e":1.6,"g":1.8,"h":1.8,"i":1.5,"j":1.7,"k":1.5,"l":1.6,"m":1.6,"n":1.8,"o":1.8,"p":1.5,"q":1.7,"r":1.5,"s":1.6},
{"f":474000,"R":1.2,"M":1.2,"K":1.2,"a":1.4,"b":1.5,"c":1.3,"d":1.4,"e":1.4,"g":1.5,"h":1.5,"i":1.3,"j":1.4,"k":1.3,"l":1.4,"m":1.4,"n":1.5,"o":1.5,"p":1.3,"q":1.4,"r":1.3,"s":1.4},
{"f":500000,"R":1.05,"M":1.05,"K":1.05,"a":1.15,"b":1.2,"c":1.1,"d":1.15,"e":1.15,"g":1.2,"h":1.2,"i":1.1,"j":1.15,"k":1.1,"l":1.15,"m":1.15,"n":1.2,"o":1.2,"p":1.1,"q":1.15,"r":1.1,"s":1.15}
]},
"resolve":{"axis":{"x":"independent","y":"independent"}},
"layer":[
{"data":{"name":"w"},
"transform":[{"fold":["R","M","K","a","b","c","d","e","g","h","i","j","k","l","m","n","o","p","q","r","s"],"as":["key","v"]},{"lookup":"key","from":{"data":{"name":"names"},"key":"key","fields":["name"]}}],
"mark":{"type":"line","clip":true,"strokeWidth":1.1},
"encoding":{
"x":{"field":"f","type":"quantitative","scale":{"domain":[0,500000],"nice":false,"zero":false},
"axis":{"orient":"bottom","values":[0,50000,100000,150000,200000,250000,300000,350000,400000,450000,500000],"labelExpr":"datum.value/100000","title":"Frequency(Hz)","titleFontSize":31,"titleFontWeight":"normal","titleFont":"Liberation Serif","titleColor":"#262626","titlePadding":8,"labelFontSize":27,"labelFont":"Liberation Serif","labelColor":"#262626","tickSize":-9,"labelPadding":21,"domainColor":"#707070","tickColor":"#555555","labelFlush":false,"labelOverlap":false,"grid":false}},
"y":{"field":"v","type":"quantitative","scale":{"domain":[0,70],"nice":false,"zero":false},
"axis":{"orient":"left","values":[0,10,20,30,40,50,60,70],"title":"Impedance","titleFontSize":31,"titleFontWeight":"normal","titleFont":"Liberation Serif","titleColor":"#262626","titlePadding":8,"labelFontSize":27,"labelFont":"Liberation Serif","labelColor":"#262626","tickSize":-9,"labelPadding":18,"domainColor":"#707070","tickColor":"#555555","labelFlush":false,"labelOverlap":false,"grid":false}},
"color":{"field":"name","type":"nominal","scale":{"domain":["0mm","5mm","20mm","1d","2d","3d","4d","5d","6d","7d","8d","10d","12d","14d","16d","18d","20d","22d","24d","26d","28d"],"range":["#ff0000","#ff00ff","#000000","#0072bd","#d95319","#edb120","#7e2f8e","#77ac30","#4dbeee","#a2142f","#0072bd","#d95319","#edb120","#7e2f8e","#77ac30","#4dbeee","#a2142f","#0072bd","#d95319","#edb120","#7e2f8e"]},
"legend":{"title":null,"orient":"none","legendX":957,"legendY":0.5,"symbolType":"stroke","symbolSize":729,"symbolStrokeWidth":1.3,"labelFontSize":26,"labelFont":"Liberation Serif","labelColor":"#000000","rowPadding":2.75,"labelOffset":3,"padding":0,"labelLimit":300}},
"strokeDash":{"field":"name","type":"nominal","scale":{"domain":["0mm","5mm","20mm","1d","2d","3d","4d","5d","6d","7d","8d","10d","12d","14d","16d","18d","20d","22d","24d","26d","28d"],"range":[[1,0],[1,0],[1,0],[1,2],[1,2],[1,2],[1,2],[1,2],[1,2],[1,2],[6,3,1,3],[6,3,1,3],[6,3,1,3],[6,3,1,3],[6,3,1,3],[6,3,1,3],[6,4],[6,4],[6,4],[6,4],[6,4]]},
"legend":{"title":null,"orient":"none","legendX":957,"legendY":0.5,"symbolType":"stroke","symbolSize":729,"symbolStrokeWidth":1.3,"labelFontSize":26,"labelFont":"Liberation Serif","labelColor":"#000000","rowPadding":2.75,"labelOffset":3,"padding":0,"labelLimit":300}}
}},
{"data":{"name":"ell"},
"mark":{"type":"point","shape":"M0,-1C0.0445,-1,0.0805,-0.5523,0.0805,0C0.0805,0.5523,0.0445,1,0,1C-0.0445,1,-0.0805,0.5523,-0.0805,0C-0.0805,-0.5523,-0.0445,-1,0,-1Z","filled":false,"stroke":"#ff0000","strokeWidth":2.5,"strokeDash":[7,4],"size":93450,"opacity":1},
"encoding":{
"x":{"field":"f","type":"quantitative","axis":{"orient":"top","values":[0,50000,100000,150000,200000,250000,300000,350000,400000,450000,500000],"labels":false,"title":null,"tickSize":-9,"domainColor":"#707070","tickColor":"#555555","grid":false}},
"y":{"field":"v","type":"quantitative","axis":{"orient":"right","values":[0,10,20,30,40,50,60,70],"labels":false,"title":null,"tickSize":-9,"domainColor":"#707070","tickColor":"#555555","grid":false}}
}},
{"data":{"name":"x10"},
"mark":{"type":"text","align":"left","baseline":"alphabetic","fontSize":29,"font":"Liberation Serif","color":"#262626"},
"encoding":{"x":{"field":"f","type":"quantitative","axis":null},"y":{"field":"v","type":"quantitative","axis":null},"text":{"field":"t"}}},
{"data":{"name":"x5"},
"mark":{"type":"text","align":"left","baseline":"alphabetic","fontSize":21,"font":"Liberation Serif","color":"#262626"},
"encoding":{"x":{"field":"f","type":"quantitative","axis":null},"y":{"field":"v","type":"quantitative","axis":null},"text":{"field":"t"}}}
]
}
